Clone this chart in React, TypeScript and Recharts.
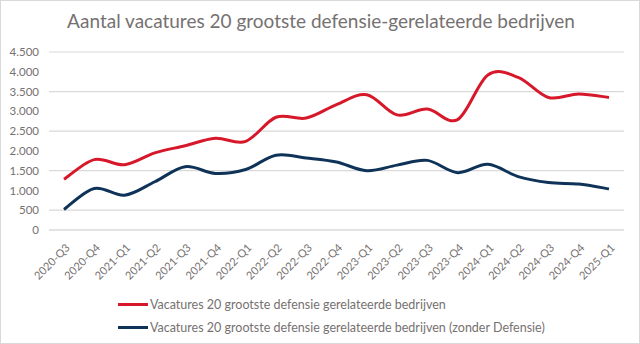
import React from 'react';
import { LineChart, Line, XAxis, YAxis, CartesianGrid, Legend } from 'recharts';

const quarters = [
  '2020-Q3', '2020-Q4', '2021-Q1', '2021-Q2', '2021-Q3', '2021-Q4', '2022-Q1',
  '2022-Q2', '2022-Q3', '2022-Q4', '2023-Q1', '2023-Q2', '2023-Q3', '2023-Q4',
  '2024-Q1', '2024-Q2', '2024-Q3', '2024-Q4', '2025-Q1',
];
const totaal = [
  1280, 1780, 1650, 1950, 2130, 2320, 2240, 2850, 2830, 3170,
  3420, 2910, 3060, 2790, 3920, 3860, 3350, 3440, 3350,
];
const zonderDefensie = [
  520, 1050, 880, 1220, 1600, 1430, 1530, 1890, 1820, 1720,
  1500, 1640, 1760, 1450, 1660, 1350, 1200, 1160, 1040,
];
const yTicks = [0, 500, 1000, 1500, 2000, 2500, 3000, 3500, 4000, 4500];

const RED = '#d7182a';
const NAVY = '#0f3358';
const TEXT = '#767171';
const FONT = 'Lato, "Open Sans", sans-serif';

const data = quarters.map((q, i) => ({
  quarter: q,
  totaal: totaal[i],
  zonder: zonderDefensie[i],
}));

// Excel-like smoothing (Catmull-Rom through all points)
const smoothCurve = (context: any) => {
  let pts: [number, number][] = [];
  return {
    areaStart() {},
    areaEnd() {},
    lineStart() {
      pts = [];
    },
    point(x: number, y: number) {
      pts.push([+x, +y]);
    },
    lineEnd() {
      if (!pts.length) return;
      context.moveTo(pts[0][0], pts[0][1]);
      for (let i = 0; i < pts.length - 1; i++) {
        const p0 = pts[i - 1] || pts[i];
        const p1 = pts[i];
        const p2 = pts[i + 1];
        const p3 = pts[i + 2] || p2;
        context.bezierCurveTo(
          p1[0] + (p2[0] - p0[0]) / 6,
          p1[1] + (p2[1] - p0[1]) / 6,
          p2[0] - (p3[0] - p1[0]) / 6,
          p2[1] - (p3[1] - p1[1]) / 6,
          p2[0],
          p2[1]
        );
      }
    },
  };
};

const legendItems = [
  { label: 'Vacatures 20 grootste defensie gerelateerde bedrijven', color: RED },
  { label: 'Vacatures 20 grootste defensie gerelateerde bedrijven (zonder Defensie)', color: NAVY },
];

const renderLegend = () => (
  <div style={{ paddingLeft: 118, paddingTop: 9, fontFamily: FONT, fontSize: 12.5, color: TEXT }}>
    {legendItems.map((it) => (
      <div key={it.label} style={{ display: 'flex', alignItems: 'center', height: 23 }}>
        <span style={{ display: 'inline-block', width: 30, height: 3, background: it.color, marginRight: 2 }} />
        <span>{it.label}</span>
      </div>
    ))}
  </div>
);

export default function App() {
  return (
    <div
      style={{
        position: 'absolute',
        left: 0,
        top: 0,
        width: 640,
        height: 344,
        background: '#fff',
        boxSizing: 'border-box',
        border: '1px solid #d9d9d9',
      }}
    >
      <div
        style={{
          position: 'absolute',
          top: 8,
          left: 0,
          width: 640,
          textAlign: 'center',
          fontFamily: FONT,
          fontSize: 19,
          color: TEXT,
        }}
      >
        Aantal vacatures 20 grootste defensie-gerelateerde bedrijven
      </div>
      <div style={{ position: 'absolute', left: -1, top: -1 }}>
        <LineChart width={640} height={344} data={data} margin={{ top: 52, right: 16, bottom: 0, left: 0 }}>
          <CartesianGrid vertical={false} stroke="#d9d9d9" strokeWidth={1.2} />
          <XAxis
            dataKey="quarter"
            axisLine={{ stroke: '#d9d9d9' }}
            tickLine={false}
            interval={0}
            height={54}
            padding={{ left: 15, right: 15 }}
            angle={-45}
            textAnchor="end"
            tick={{ fill: TEXT, fontSize: 11, fontFamily: FONT, dx: 1, dy: 5 }}
          />
          <YAxis
            domain={[0, 4500]}
            ticks={yTicks}
            width={49}
            axisLine={false}
            tickLine={false}
            tickSize={0}
            tickMargin={10}
            tickFormatter={(v: number) => v.toLocaleString('nl-NL')}
            tick={{ fill: TEXT, fontSize: 11.5, fontFamily: FONT }}
          />
          <Legend verticalAlign="bottom" height={60} content={renderLegend} />
          <Line
            dataKey="totaal"
            type={smoothCurve as any}
            stroke={RED}
            strokeWidth={3}
            dot={false}
            isAnimationActive={false}
          />
          <Line
            dataKey="zonder"
            type={smoothCurve as any}
            stroke={NAVY}
            strokeWidth={3}
            dot={false}
            isAnimationActive={false}
          />
        </LineChart>
      </div>
    </div>
  );
}
